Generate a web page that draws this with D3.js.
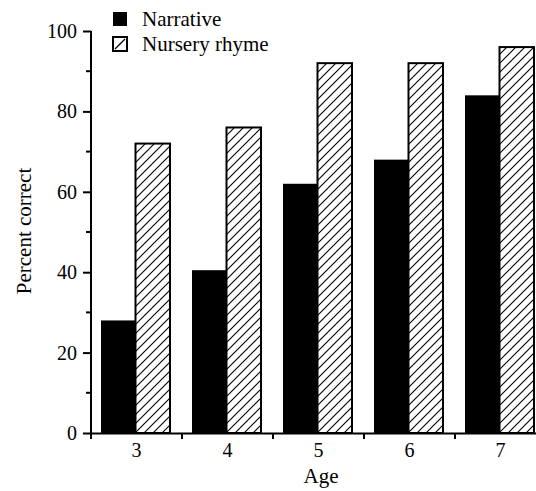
<!DOCTYPE html>
<html>
<head>
<meta charset="utf-8">
<script src="https://d3js.org/d3.v7.min.js"></script>
<style>
  body { margin: 0; background: #fff; }
  text { font-family: "Liberation Serif", "Times New Roman", serif; }
</style>
</head>
<body>
<script>
// chart data
var ages = ["3", "4", "5", "6", "7"];
var seriesNames = ["Narrative", "Nursery rhyme"];
var narrative = [28, 40.5, 62, 68, 84];
var nursery = [72, 76, 92, 92, 96];
var yTicks = [0, 20, 40, 60, 80, 100];
var yMinorTicks = [10, 30, 50, 70, 90];

var svgWidth = 536;
var svgHeight = 491;

var svg = d3.select("body")
  .append("svg")
  .attr("width", svgWidth)
  .attr("height", svgHeight);

// hatch pattern for the nursery rhyme bars
var defs = svg.append("defs");
defs.append("pattern")
  .attr("id", "hatch")
  .attr("patternUnits", "userSpaceOnUse")
  .attr("width", 9)
  .attr("height", 9)
  .append("path")
  .attr("d", "M-1,1 l2,-2 M0,9 l9,-9 M8,10 l2,-2")
  .attr("stroke", "#000")
  .attr("stroke-width", 1.1);

// scales
var yScale = d3.scaleLinear()
  .domain([0, 100])
  .range([433, 31]);

var x0 = d3.scaleBand()
  .domain(ages)
  .range([91, 546]);

var x1 = d3.scaleBand()
  .domain(seriesNames)
  .range([10, 79]);

var rows = ages.map(function(a, i) {
  return { age: a, values: [narrative[i], nursery[i]] };
});

// bars
var groups = svg.selectAll(".group")
  .data(rows).enter()
  .append("g")
  .attr("transform", function(d) { return "translate(" + x0(d.age) + ",0)"; });

groups.selectAll("rect")
  .data(function(d) {
    return d.values.map(function(v, j) { return { name: seriesNames[j], value: v }; });
  }).enter()
  .append("rect")
  .attr("x", function(d) { return x1(d.name); })
  .attr("y", function(d) { return yScale(d.value); })
  .attr("width", x1.bandwidth())
  .attr("height", function(d) { return yScale(0) - yScale(d.value); })
  .attr("fill", function(d) { return d.name === "Narrative" ? "#000" : "url(#hatch)"; })
  .attr("stroke", "#000")
  .attr("stroke-width", function(d) { return d.name === "Narrative" ? 0 : 2; });

// y axis
var leftAxis = d3.axisLeft(yScale)
  .tickValues(yTicks)
  .tickSize(8)
  .tickSizeOuter(0)
  .tickPadding(6)
  .tickFormat(d3.format("d"));

var yAxisG = svg.append("g")
  .attr("transform", "translate(91,0)")
  .call(leftAxis);

yAxisG.select(".domain").attr("d", "M0,31V439");

yAxisG.selectAll(".minor")
  .data(yMinorTicks).enter()
  .append("line")
  .attr("class", "minor")
  .attr("x1", -5)
  .attr("x2", 0)
  .attr("y1", function(d) { return yScale(d); })
  .attr("y2", function(d) { return yScale(d); })
  .attr("stroke", "#000");

// x axis
var bottomAxis = d3.axisBottom(x0)
  .tickSize(0)
  .tickSizeOuter(0)
  .tickPadding(10);

var xAxisG = svg.append("g")
  .attr("transform", "translate(0,433)")
  .call(bottomAxis);

xAxisG.selectAll(".edge")
  .data(ages).enter()
  .append("line")
  .attr("class", "edge")
  .attr("x1", function(d) { return x0(d); })
  .attr("x2", function(d) { return x0(d); })
  .attr("y1", 0)
  .attr("y2", 6)
  .attr("stroke", "#000");

svg.selectAll(".domain, .tick line, .minor, .edge").attr("stroke-width", 2);
svg.selectAll(".tick text")
  .attr("font-family", "Liberation Serif")
  .attr("font-size", "20px")
  .attr("fill", "#000");

// axis titles
svg.append("text")
  .attr("x", 321)
  .attr("y", 483)
  .attr("text-anchor", "middle")
  .attr("font-size", "21px")
  .text("Age");

svg.append("text")
  .attr("transform", "translate(31,231) rotate(-90)")
  .attr("text-anchor", "middle")
  .attr("font-size", "21px")
  .text("Percent correct");

// legend
var legend = svg.selectAll(".legend")
  .data(seriesNames).enter()
  .append("g")
  .attr("class", "legend")
  .attr("transform", function(d, i) { return "translate(113," + (12 + i * 25) + ")"; });

legend.append("rect")
  .attr("width", 14)
  .attr("height", 14)
  .attr("fill", function(d, i) { return i === 0 ? "#000" : "#fff"; })
  .attr("stroke", "#000")
  .attr("stroke-width", function(d, i) { return i === 0 ? 0 : 2; });

legend.filter(function(d, i) { return i === 1; })
  .append("line")
  .attr("x1", 2).attr("y1", 12)
  .attr("x2", 12).attr("y2", 2)
  .attr("stroke", "#000")
  .attr("stroke-width", 1.2);

legend.append("text")
  .attr("x", 29)
  .attr("y", 14)
  .attr("font-size", "21px")
  .text(function(d) { return d; });
</script>
</body>
</html>
